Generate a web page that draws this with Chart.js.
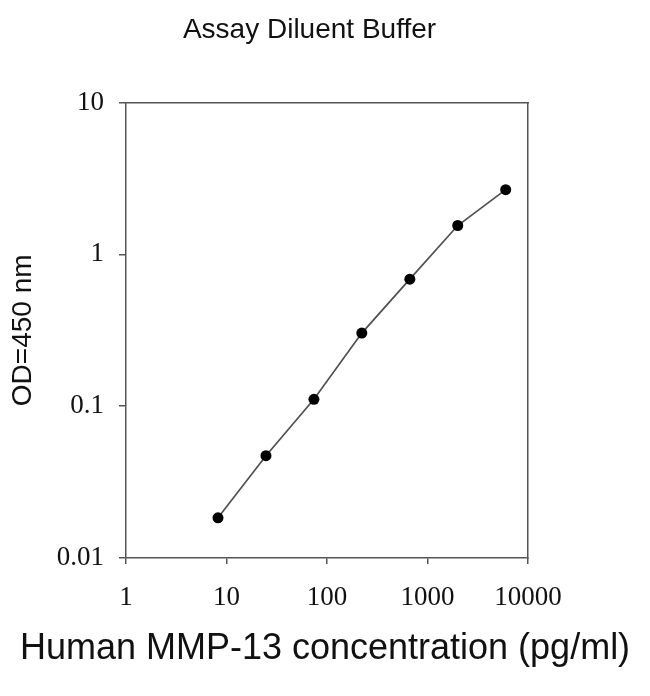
<!DOCTYPE html>
<html>
<head>
<meta charset="utf-8">
<script src="https://cdn.jsdelivr.net/npm/chart.js@4"></script>
<style>
  html, body { margin: 0; padding: 0; background: #fff; }
  #wrap { width: 650px; height: 696px; }
</style>
</head>
<body>
<div id="wrap"><canvas id="chart" width="650" height="696"></canvas></div>
<script>
// data
const concentrations = [8.23, 24.7, 74.1, 222, 667, 2000, 6000]; // pg/ml
const odValues = [0.0184, 0.0472, 0.111, 0.303, 0.687, 1.55, 2.67];

const xTicks = [1, 10, 100, 1000, 10000];
const xTickLabels = ["1", "10", "100", "1000", "10000"];
const yTicks = [0.01, 0.1, 1, 10];
const yTickLabels = ["0.01", "0.1", "1", "10"];

const xTitle = "Human MMP-13 concentration (pg/ml)";

const axisColor = "#555";
const serif = "'Liberation Serif', 'DejaVu Serif', serif";
const sans = "'Liberation Sans', Arial, sans-serif";

const points = concentrations.map((c, i) => ({ x: c, y: odValues[i] }));

// keep only the decade ticks
function setTicks(values) {
  return scale => { scale.ticks = values.map(v => ({ value: v })); };
}

// the scale title gets clipped to the axis width, so draw the wide one here
const xTitlePlugin = {
  id: "xTitle",
  afterDraw(chart) {
    const { ctx } = chart;
    const xs = chart.scales.x;
    ctx.save();
    ctx.fillStyle = "#111";
    ctx.font = "36px " + sans;
    ctx.textAlign = "center";
    ctx.textBaseline = "middle";
    ctx.fillText(xTitle, (xs.left + xs.right) / 2 - 2, chart.height - 47);
    ctx.restore();
  }
};

new Chart(document.getElementById("chart"), {
  type: "line",
  data: {
    datasets: [{
      data: points,
      borderColor: "#505050",
      borderWidth: 1.7,
      pointRadius: 5.5,
      pointBackgroundColor: "#000",
      pointBorderColor: "#000",
      pointBorderWidth: 0,
      tension: 0,
      fill: false
    }]
  },
  plugins: [xTitlePlugin],
  options: {
    responsive: false,
    animation: false,
    devicePixelRatio: 1,
    layout: { padding: { top: 0, left: 0, right: 31, bottom: 0 } },
    plugins: {
      legend: { display: false },
      tooltip: { enabled: false },
      title: {
        display: true,
        text: "Assay Diluent Buffer",
        color: "#111",
        font: { family: sans, size: 28, weight: "normal" },
        padding: { top: 13, bottom: 56 }
      }
    },
    scales: {
      x: {
        type: "logarithmic",
        position: "bottom",
        min: 1,
        max: 10000,
        afterBuildTicks: setTicks(xTicks),
        afterFit: s => { s.height = 138; },
        border: { display: true, color: axisColor, width: 1.5 },
        grid: { drawOnChartArea: false, drawTicks: true, tickLength: 6, color: axisColor, lineWidth: 1.5 },
        ticks: {
          autoSkip: false,
          maxRotation: 0,
          padding: 18,
          color: "#111",
          font: { family: serif, size: 27 },
          callback: (v, i) => xTickLabels[i]
        }
      },
      y: {
        type: "logarithmic",
        position: "left",
        min: 0.01,
        max: 10,
        afterBuildTicks: setTicks(yTicks),
        afterFit: s => { s.width = 126; },
        border: { display: true, color: axisColor, width: 1.5 },
        grid: { drawOnChartArea: false, drawTicks: true, tickLength: 7, color: axisColor, lineWidth: 1.5 },
        ticks: {
          autoSkip: false,
          padding: 15,
          color: "#111",
          font: { family: serif, size: 27 },
          callback: (v, i) => yTickLabels[i]
        },
        title: {
          display: true,
          text: "OD=450 nm",
          color: "#111",
          font: { family: sans, size: 28 },
          padding: { top: 6, bottom: 0 }
        }
      },
      // top and right edges of the frame
      xTop: {
        type: "linear",
        position: "top",
        min: 0,
        max: 1,
        afterFit: s => { s.height = 0; },
        border: { display: true, color: axisColor, width: 1.5 },
        grid: { display: false },
        ticks: { display: false }
      },
      yRight: {
        type: "linear",
        position: "right",
        min: 0,
        max: 1,
        afterFit: s => { s.width = 91; },
        border: { display: true, color: axisColor, width: 1.5 },
        grid: { display: false },
        ticks: { display: false }
      }
    }
  }
});
</script>
</body>
</html>
